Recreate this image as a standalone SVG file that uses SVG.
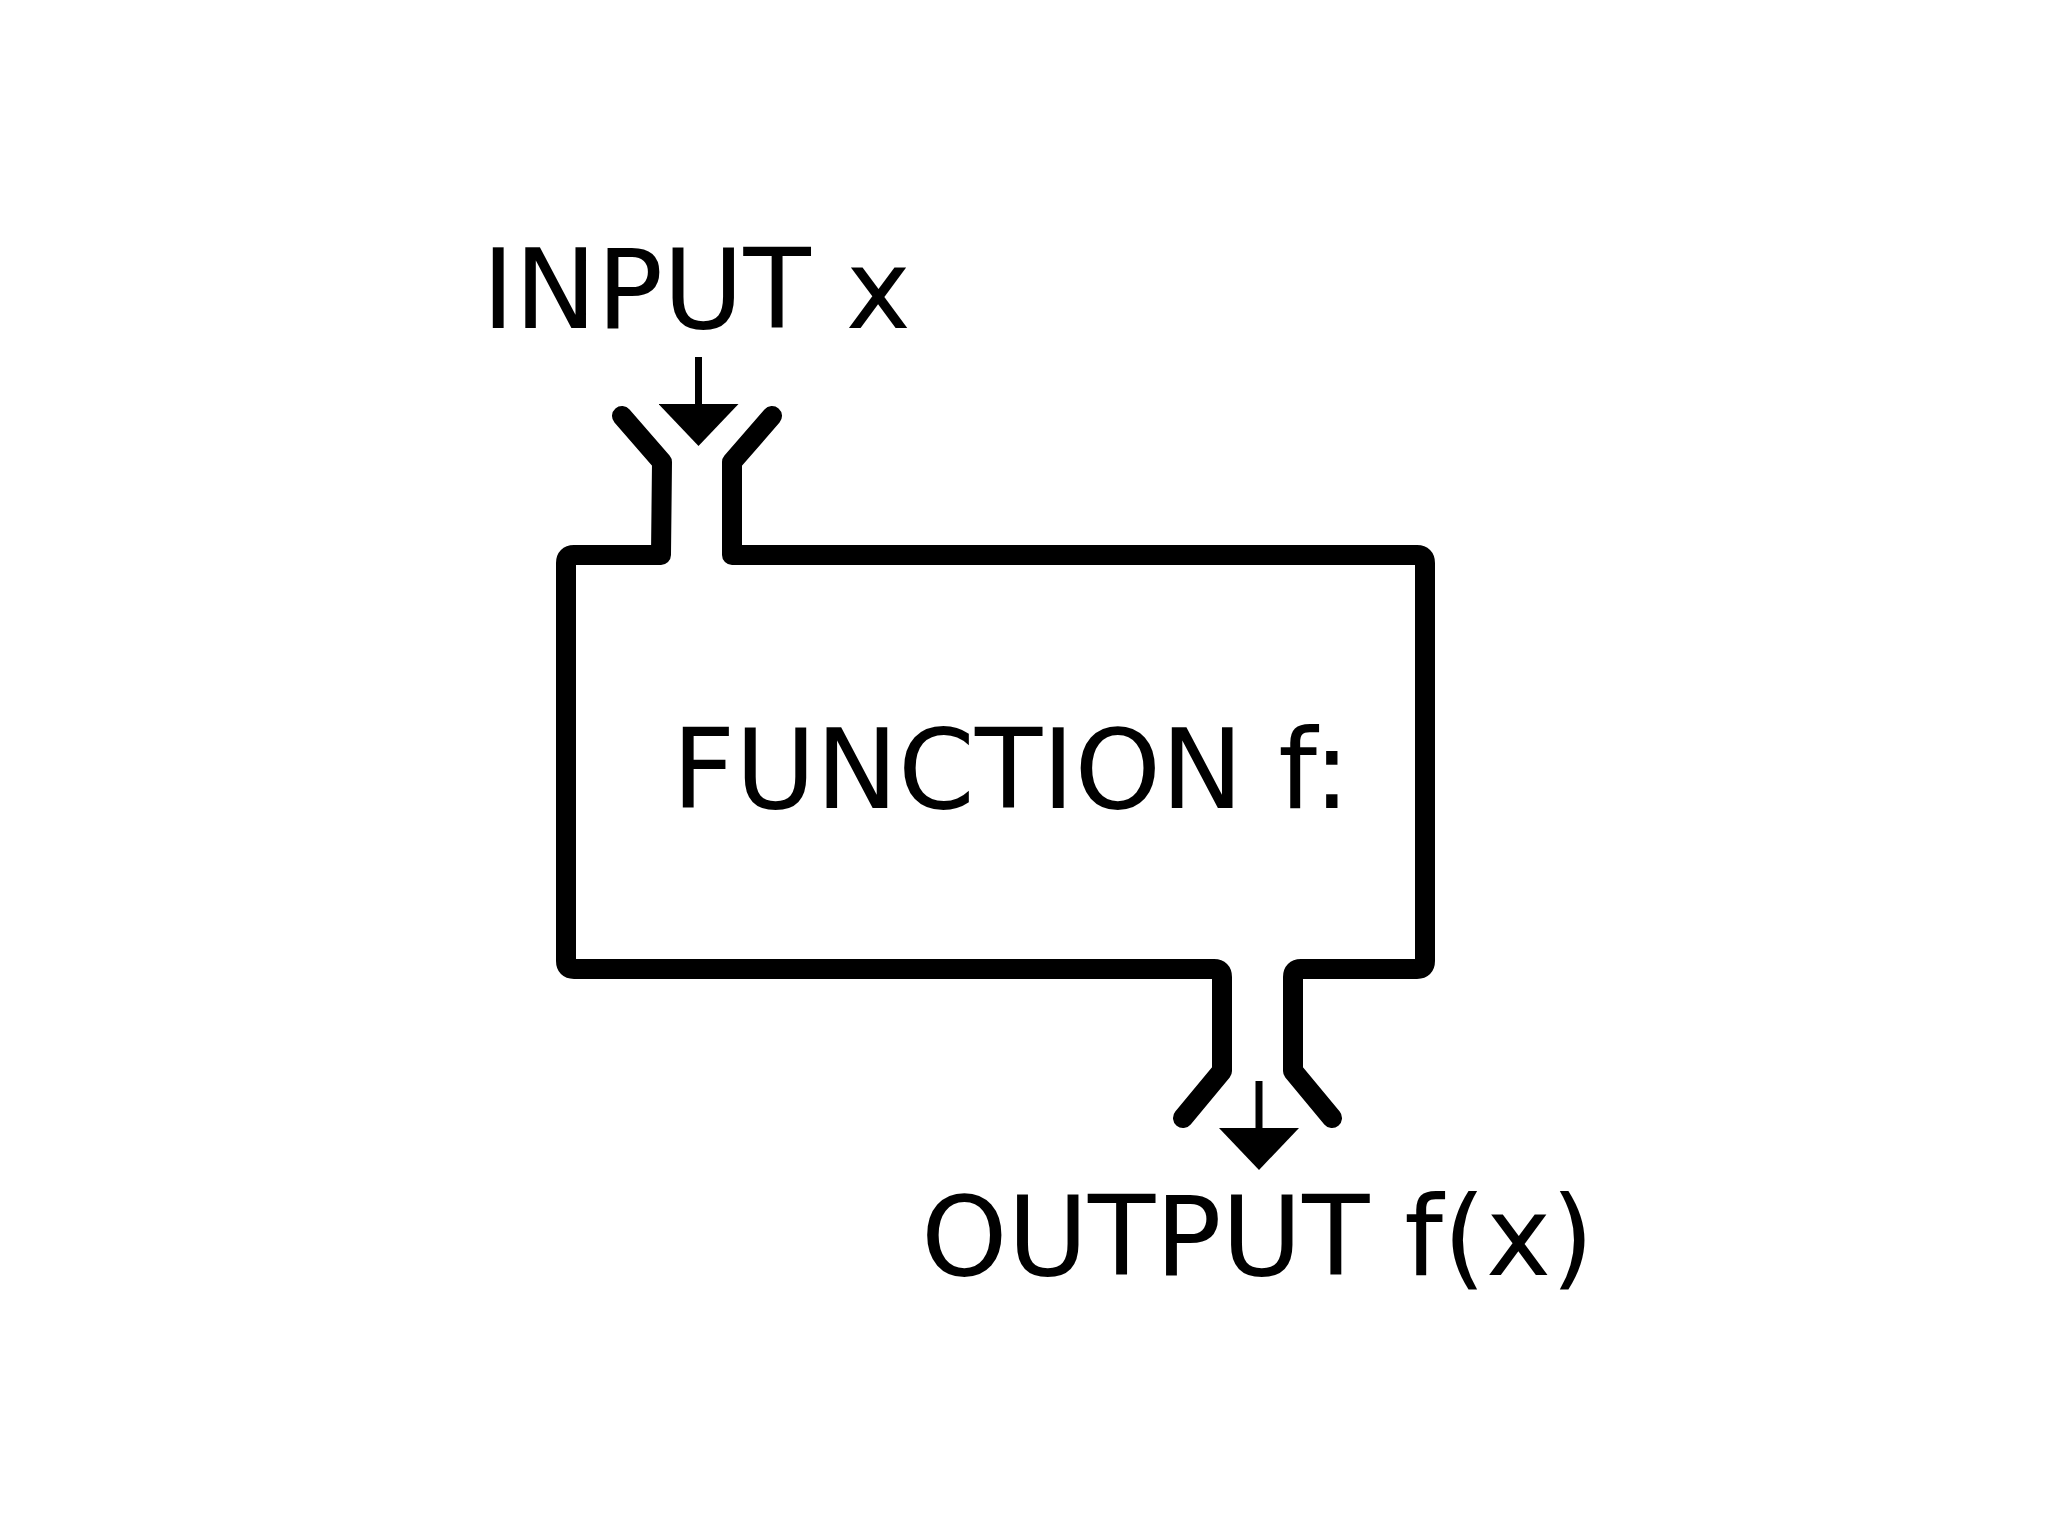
<svg xmlns="http://www.w3.org/2000/svg" width="2048" height="1536" viewBox="0 0 2048 1536">
  <style>
    .lbl { font-family: "DejaVu Sans", "Liberation Sans", sans-serif; font-size: 110px; fill: #000; }
    .wall { fill: none; stroke: #000; stroke-width: 20; stroke-linecap: round; stroke-linejoin: round; }
    .arrow { fill: none; stroke: #000; stroke-width: 7; }
  </style>
  <defs>
    <marker id="head" markerUnits="userSpaceOnUse" viewBox="0 0 42 80" refX="0" refY="40" markerWidth="42" markerHeight="80" orient="auto">
      <path d="M0,0 L42,40 L0,80 Z" fill="#000"/>
    </marker>
  </defs>
  <rect width="2048" height="1536" fill="#fff"/>
  <g id="input">
    <text class="lbl" x="482" y="328">INPUT x</text>
  </g>
  <g id="function">
    <path class="wall" d="M622,416 L662,462 L661,555 L574,555 Q566,555 566,563 L566,961 Q566,969 574,969 L1214,969 Q1222,969 1222,977 L1222,1071 L1183,1118"/>
    <path class="wall" d="M772,416 L732,462 L732,555 L1417,555 Q1425,555 1425,563 L1425,961 Q1425,969 1417,969 L1301,969 Q1293,969 1293,977 L1293,1071 L1332,1118"/>
    <text class="lbl" x="672" y="808">FUNCTION f:</text>
  </g>
  <g id="output">
    <text class="lbl" x="921" y="1275">OUTPUT f(x)</text>
  </g>
  <g id="connectors">
    <line class="arrow" x1="698.5" y1="357" x2="698.5" y2="404" marker-end="url(#head)"/>
    <line class="arrow" x1="1259" y1="1081" x2="1259" y2="1128" marker-end="url(#head)"/>
  </g>
</svg>
